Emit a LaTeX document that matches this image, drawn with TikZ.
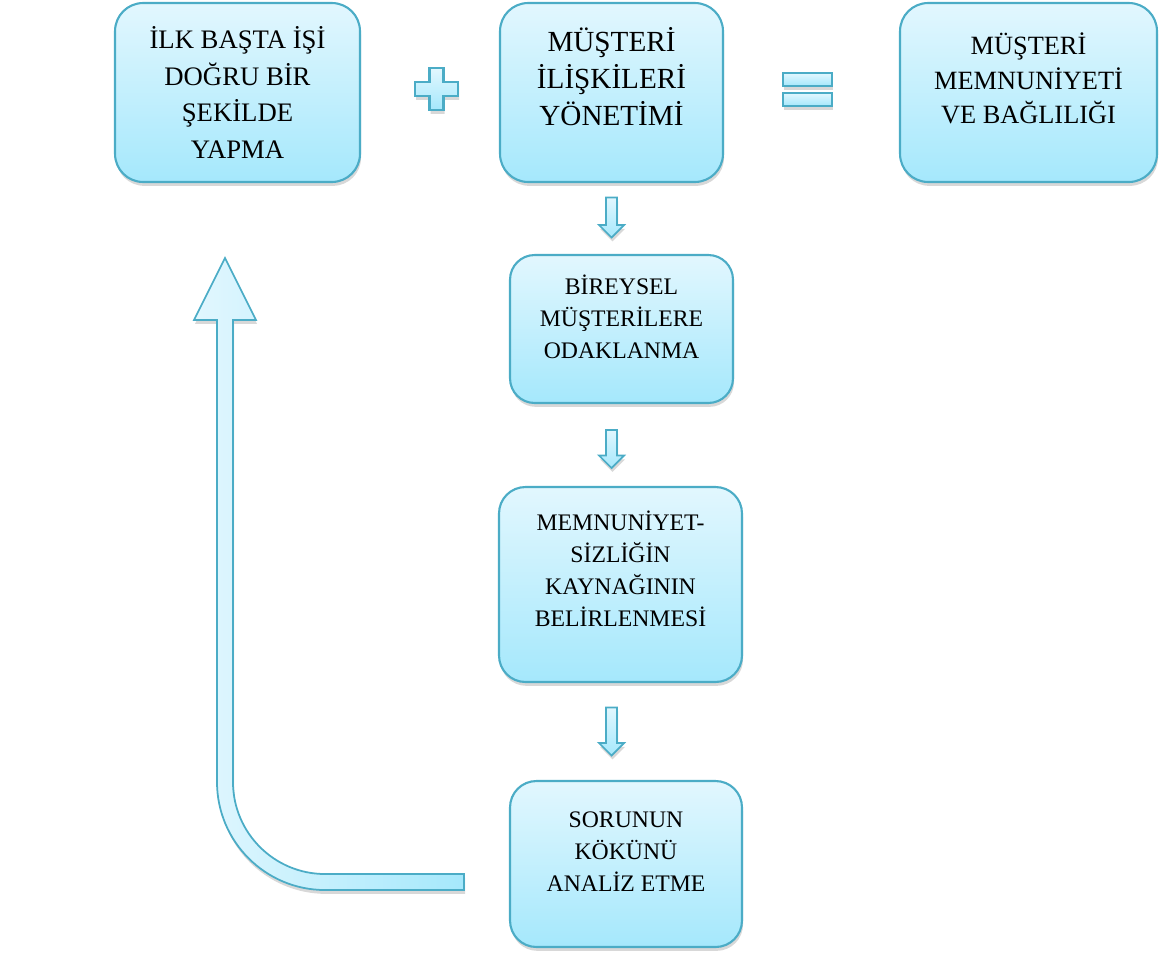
\documentclass[tikz,border=0pt]{standalone}
\usepackage{fontspec}
\setmainfont{Liberation Serif}
\usetikzlibrary{positioning, calc, shadows}

\definecolor{aquaedge}{HTML}{4BACC6}
\definecolor{aquatop}{HTML}{E2F7FE}
\definecolor{aquabot}{HTML}{A5E8FC}

\tikzset{
    softshadow/.style={drop shadow={shadow xshift=0.6pt, shadow yshift=-2.2pt, opacity=0.22, fill=black!70}},
    box/.style={draw=aquaedge, line width=1.2pt, rounded corners=16pt, inner sep=0pt,
        top color=aquatop, bottom color=aquabot, softshadow},
    boxtext/.style={align=center, inner sep=0pt, font=\fontsize{13.5}{18.2}\selectfont},
    sign/.style={draw=aquaedge, line width=1.2pt, top color=aquatop, bottom color=aquabot, softshadow},
    blockarrow/.style={draw=aquaedge, line width=1pt, top color=aquatop, bottom color=aquabot, softshadow},
    backarrow/.style={draw=aquaedge, line width=1pt, left color=aquatop, right color=aquabot, softshadow}
}

\begin{document}
\begin{tikzpicture}[x=0.02cm, y=-0.02cm]
    \useasboundingbox (0,0) rectangle (1165,954);

    % Top row
    \node[box, minimum width=4.90cm, minimum height=3.58cm] (ilk) at (237.5,92.5) {};
    \node[box, minimum width=4.46cm, minimum height=3.58cm] (crm) at (611.5,92.5) {};
    \node[box, minimum width=5.14cm, minimum height=3.58cm] (memnun) at (1028.5,92.5) {};
    \node[boxtext, font=\fontsize{15.2}{20.8}\selectfont] (ilk-t) at ($(ilk)+(0,0)$)
        {İLK BAŞTA İŞİ\\DOĞRU BİR\\ŞEKİLDE\\YAPMA};
    \node[boxtext, font=\fontsize{16.6}{21.2}\selectfont] (crm-t) at ($(crm)+(0,-16)$)
        {MÜŞTERİ\\İLİŞKİLERİ\\YÖNETİMİ};
    \node[boxtext, font=\fontsize{15}{19.6}\selectfont] (memnun-t) at ($(memnun)+(0,-14)$)
        {MÜŞTERİ\\MEMNUNİYETİ\\VE BAĞLILIĞI};

    % Column
    \node[box, rounded corners=14pt, minimum width=4.46cm, minimum height=2.96cm] (focus) at (621.5,329) {};
    \node[box, rounded corners=15pt, minimum width=4.86cm, minimum height=3.90cm] (source) at (620.5,584.5) {};
    \node[box, rounded corners=15pt, minimum width=4.64cm, minimum height=3.32cm] (root) at (626,864) {};
    \node[boxtext] (focus-t) at ($(focus)+(0,-12)$)
        {BİREYSEL\\MÜŞTERİLERE\\ODAKLANMA};
    \node[boxtext] (source-t) at ($(source)+(0,-16)$)
        {MEMNUNİYET-\\SİZLİĞİN\\KAYNAĞININ\\BELİRLENMESİ};
    \node[boxtext] (root-t) at ($(root)+(0,-12)$)
        {SORUNUN\\KÖKÜNÜ\\ANALİZ ETME};

    % Plus and equals
    \coordinate (plus) at (436.5,89);
    \coordinate (equals) at (807.5,89.5);
    \draw[sign] ($(plus)+(-7,-21)$) -- ($(plus)+(7,-21)$) -- ($(plus)+(7,-7)$) -- ($(plus)+(21.5,-7)$)
        -- ($(plus)+(21.5,7)$) -- ($(plus)+(7,7)$) -- ($(plus)+(7,21)$) -- ($(plus)+(-7,21)$)
        -- ($(plus)+(-7,7)$) -- ($(plus)+(-21.5,7)$) -- ($(plus)+(-21.5,-7)$) -- ($(plus)+(-7,-7)$) -- cycle;
    \draw[sign] ($(equals)+(-24.5,-16.5)$) rectangle ($(equals)+(24.5,-3.5)$);
    \draw[sign] ($(equals)+(-24.5,3.5)$) rectangle ($(equals)+(24.5,16.5)$);

    % Down arrows
    \foreach \a/\b/\l/\s in {crm/focus/20/-1, focus/source/19/4, source/root/24/0}{
        \coordinate (mid) at ($(\a.south)!.5!(\b.north)+(0,\s)$);
        \coordinate (m) at (crm.south |- mid);
        \draw[blockarrow] ($(m)+(-5.5,-\l)$) -- ($(m)+(5.5,-\l)$) -- ($(m)+(5.5,\l-12.5)$)
            -- ($(m)+(12.5,\l-12.5)$) -- ($(m)+(0,\l)$) -- ($(m)+(-12.5,\l-12.5)$)
            -- ($(m)+(-5.5,\l-12.5)$) -- cycle;
    }

    % Back arrow
    \draw[backarrow]
        (225,258) -- (256,320) -- (233,320) -- (233,782)
        .. controls (233,832.8) and (274.2,874) .. (325,874) -- (464,874)
        -- (464,890) -- (325,890)
        .. controls (265.4,890) and (217,841.6) .. (217,782) -- (217,320) -- (194,320) -- cycle;
\end{tikzpicture}
\end{document}
